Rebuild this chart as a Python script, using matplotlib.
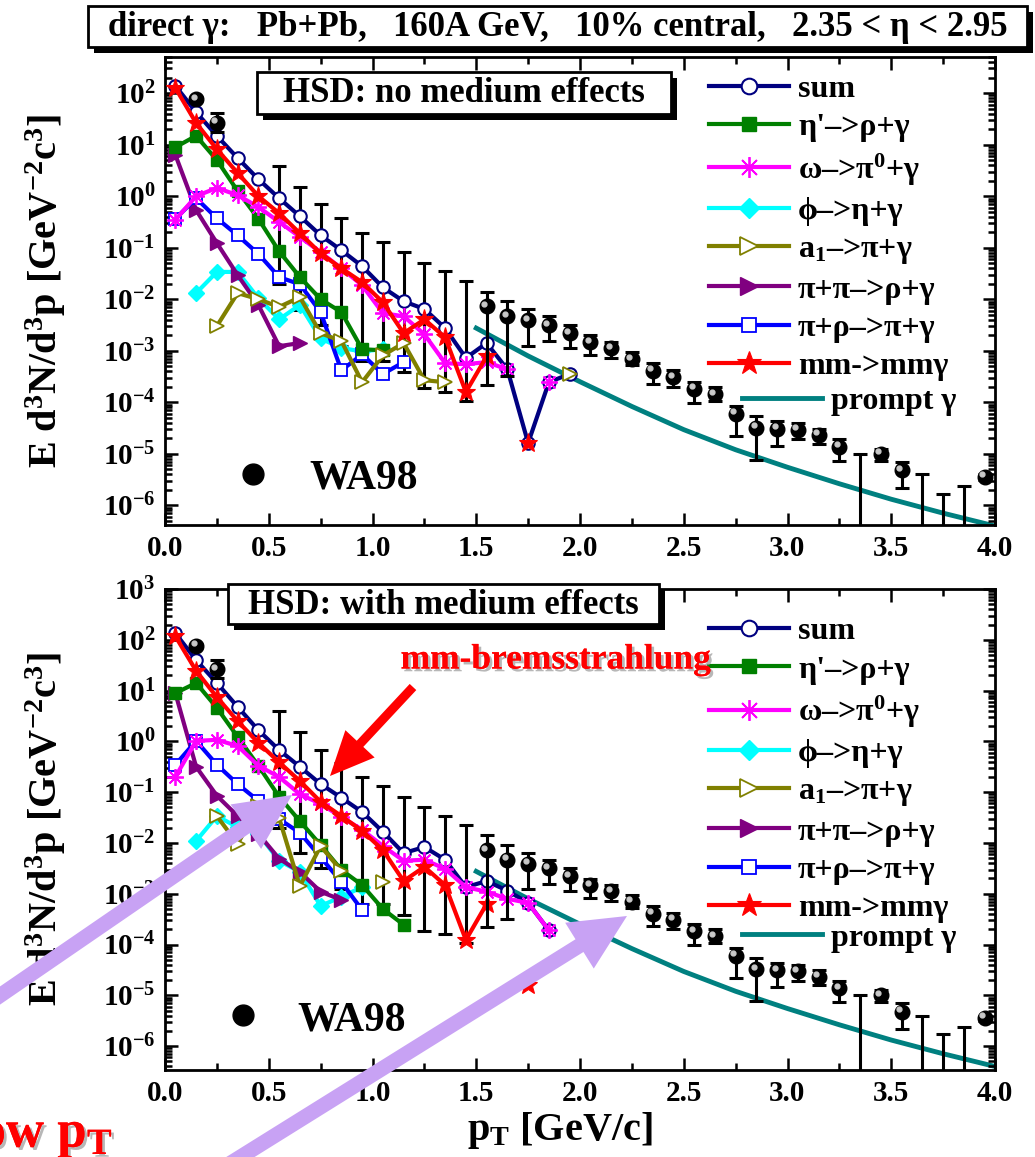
import numpy as np
import matplotlib
matplotlib.use('Agg')
import matplotlib.pyplot as plt
from matplotlib.lines import Line2D
from matplotlib.patches import Rectangle, FancyArrow
from matplotlib.transforms import offset_copy
from matplotlib.ticker import LogLocator, FuncFormatter, NullFormatter, MultipleLocator, FormatStrFormatter
import matplotlib.patheffects as pe

plt.rcParams['font.family'] = ['Liberation Serif', 'DejaVu Serif']
plt.rcParams['font.weight'] = 'bold'
plt.rcParams['axes.labelweight'] = 'bold'
plt.rcParams['mathtext.fontset'] = 'custom'
plt.rcParams['mathtext.rm'] = 'Liberation Serif:bold'
plt.rcParams['mathtext.bf'] = 'Liberation Serif:bold'
plt.rcParams['mathtext.it'] = 'Liberation Serif:bold:italic'
plt.rcParams['mathtext.default'] = 'rm'

nan = np.nan
# ---------------- data (log10 of E d3N/d3p) ----------------
pt = [0.05, 0.15, 0.25, 0.35, 0.45, 0.55, 0.65, 0.75, 0.85, 0.95,
      1.05, 1.15, 1.25, 1.35, 1.45, 1.55, 1.65, 1.75, 1.85, 1.95]

labels = ['sum', "η'–>ρ+γ", 'ω–>π$^{0}$+γ', 'ϕ–>η+γ', 'a$_{1}$–>π+γ',
          'π+π–>ρ+γ', 'π+ρ–>π+γ', 'mm->mmγ']

# HSD: no medium effects
sum_nm   = [2.14, 1.63, 1.17, 0.74, 0.33, -0.04, -0.39, -0.76, -1.05, -1.36,
            -1.77, -2.04, -2.19, -2.56, -3.14, -2.85, -3.36, -4.79, -3.61, -3.45]
eta_nm   = [0.95, 1.17, 0.70, 0.10, -0.44, -1.07, -1.57, -2.00, -2.25, -2.97,
            -2.99, nan, nan, nan, nan, nan, nan, nan, nan, nan]
omega_nm = [-0.46, 0.00, 0.16, 0.02, -0.21, -0.50, -0.79, -1.09, -1.40, -1.73,
            -2.27, -2.33, -2.68, -3.24, -3.26, -3.22, -3.36, nan, -3.61, nan]
phi_nm   = [nan, -1.88, -1.47, -1.47, -1.98, -2.39, -2.11, -2.76, -2.95, -3.01,
            -2.97, nan, nan, nan, nan, nan, nan, nan, nan, nan]
a1_nm    = [nan, nan, -2.52, -1.88, -2.00, -2.15, -1.96, -2.66, -2.81, -3.61,
            -3.09, -2.85, -3.57, -3.61, nan, nan, nan, nan, nan, -3.45]
pipi_nm  = [0.80, -0.27, -0.91, -1.53, -2.11, -2.91, -2.85, nan, nan, nan,
            nan, nan, nan, nan, nan, nan, nan, nan, nan, nan]
pirho_nm = [-0.44, -0.04, -0.43, -0.76, -1.12, -1.57, -1.71, -2.25, -3.38, -3.07,
            -3.45, -3.22, nan, nan, nan, nan, nan, nan, nan, nan]
mm_nm    = [2.10, 1.42, 0.91, 0.45, 0.00, -0.33, -0.72, -1.11, -1.40, -1.67,
            -2.06, -2.66, -2.39, -2.74, -3.80, -3.11, nan, -4.79, nan, nan]

# HSD: with medium effects
sum_wm   = [2.13, 1.60, 1.15, 0.68, 0.22, -0.17, -0.50, -0.84, -1.11, -1.39,
            -1.78, -2.20, -2.08, -2.33, -2.87, -2.75, -2.94, -3.18, -3.72, nan]
eta_wm   = [0.95, 1.15, 0.66, 0.09, -0.48, -1.09, -1.57, -2.04, -2.53, -2.83,
            -3.30, -3.61, nan, nan, nan, nan, nan, nan, nan, nan]
omega_wm = [-0.70, 0.01, 0.03, -0.09, -0.48, -0.70, -1.04, -1.23, -1.49, -1.74,
            -2.06, -2.35, -2.33, -2.51, -2.87, -2.96, -3.10, -3.18, -3.72, nan]
phi_wm   = [nan, -1.96, -1.47, -1.69, -1.82, -2.35, -2.57, -3.24, -3.06, -2.87,
            nan, nan, nan, nan, nan, nan, nan, nan, nan, nan]
a1_wm    = [nan, nan, -1.47, -2.02, -1.27, -1.51, -2.85, -2.06, -2.55, nan,
            -2.77, nan, nan, nan, nan, nan, nan, nan, nan, nan]
pipi_wm  = [0.95, -0.50, -1.07, -1.47, -1.82, -2.31, -2.57, -2.96, -3.12, nan,
            nan, nan, nan, nan, nan, nan, nan, nan, nan, nan]
pirho_wm = [-0.46, 0.01, -0.46, -0.84, -1.17, -1.53, -1.80, -2.28, -2.77, -3.32,
            nan, nan, nan, nan, nan, nan, nan, nan, nan, nan]
mm_wm    = [2.07, 1.39, 0.87, 0.40, -0.03, -0.41, -0.78, -1.19, -1.47, -1.76,
            -2.14, -2.75, -2.47, -2.83, -3.91, -3.20, nan, -4.79, nan, nan]

# prompt photons
prompt_pt  = [1.5, 1.75, 2.0, 2.25, 2.5, 2.75, 3.0, 3.25, 3.5, 3.75, 4.0]
prompt_log = [-2.56, -3.10, -3.60, -4.08, -4.53, -4.92, -5.26, -5.58, -5.88, -6.15, -6.40]

# WA98 data points
wa_pt  = [0.15, 0.25, 1.55, 1.65, 1.75, 1.85, 1.95, 2.05, 2.15, 2.25, 2.35, 2.45,
          2.55, 2.65, 2.75, 2.85, 2.95, 3.05, 3.15, 3.25, 3.45, 3.55, 3.95]
wa_c   = [1.88, 1.42, -2.14, -2.33, -2.41, -2.50, -2.66, -2.83, -2.95, -3.16, -3.39, -3.51,
          -3.74, -3.84, -4.22, -4.49, -4.51, -4.53, -4.63, -4.86, -5.00, -5.32, -5.44]
wa_hi  = [1.92, 1.61, -1.85, -2.04, -2.19, -2.33, -2.50, -2.70, -2.83, -3.02, -3.24, -3.37,
          -3.60, -3.70, -4.07, -4.26, -4.36, -4.40, -4.51, -4.72, -4.90, -5.15, -5.40]
wa_lo  = [1.84, 1.25, -3.66, -3.49, -2.91, -2.81, -2.95, -3.08, -3.14, -3.28, -3.64, -3.70,
          -4.01, -3.97, -4.65, -5.11, -4.84, -4.71, -4.80, -5.13, -5.13, -5.67, -5.50]
# WA98 upper limits (bars only)
ul_pt = [0.55, 0.65, 0.75, 0.85, 0.95, 1.05, 1.15, 1.25, 1.35, 1.45, 3.35, 3.65, 3.75, 3.85]
ul_hi = [0.59, 0.18, -0.16, -0.42, -0.71, -0.88, -1.09, -1.29, -1.46, -1.65, -5.00, -5.40, -5.77, -5.63]
ul_lo = [-1.71, -2.20, -2.50, -2.90, -3.20, -3.20, -3.41, -3.73, -3.80, -3.97, -9.0, -9.0, -9.0, -9.0]

# ---------------- styles ----------------
NAVY, GREEN, MAG, CYAN, OLIVE, PURP, BLUE, RED, TEAL = (
    '#000080', '#008000', '#ff00ff', '#00ffff', '#808000', '#800080', '#0000ff', '#ff0000', '#008080')
# (color, marker, facecolor, markersize, mew, zorder)
styles = [
    (NAVY, 'o', 'white', 9, 1.5, 8),
    (GREEN, 's', GREEN, 8, 1.0, 6),
    (MAG, (8, 2, 0), MAG, 12, 1.3, 9),
    (CYAN, 'D', CYAN, 8, 1.0, 3),
    (OLIVE, '>', 'white', 10, 1.3, 8.5),
    (PURP, '>', PURP, 10, 1.0, 4),
    (BLUE, 's', 'white', 8, 1.3, 5),
    (RED, '*', RED, 14, 0.8, 10),
]

W, H = 1035, 1157
fig = plt.figure(figsize=(W / 100, H / 100), dpi=100)


def frac(l, t, r, b):
    return [l / W, 1 - b / H, (r - l) / W, (b - t) / H]


def expfmt(v, _):
    e = int(round(np.log10(v)))
    return '10$^{%d}$' % e


def draw_panel(ax, series, ylim, leg_anchor, prompt_anchor, wa_anchor, wa_pad):
    ax.set_yscale('log')
    ax.set_xlim(0, 4.0)
    ax.set_ylim(*ylim)
    x = np.array(pt)
    handles = []
    for vals, lab, st in zip(series, labels, styles):
        c, m, fc, ms, mew, z = st
        h, = ax.plot(x, 10 ** np.array(vals), color=c, lw=3, marker=m, ms=ms,
                     mfc=fc, mec=c, mew=mew, zorder=z, label=lab)
        handles.append(h)
    ax.plot(prompt_pt, 10 ** np.array(prompt_log), color=TEAL, lw=3.5, zorder=1)
    # WA98 upper limits
    ax.vlines(ul_pt, 10 ** np.array(ul_lo), 10 ** np.array(ul_hi), color='k', lw=2.2, zorder=1.5)
    ax.plot(ul_pt, 10 ** np.array(ul_hi), ls='none', marker='_', ms=10, mew=2.2, color='k', zorder=1.5)
    ax.plot(ul_pt, 10 ** np.array(ul_lo), ls='none', marker='_', ms=10, mew=2.2, color='k', zorder=1.5)
    # WA98 points
    c = 10 ** np.array(wa_c)
    ax.errorbar(wa_pt, c, yerr=[c - 10 ** np.array(wa_lo), 10 ** np.array(wa_hi) - c],
                fmt='none', ecolor='k', elinewidth=2.2, capsize=5, capthick=2.2, zorder=11)
    ax.plot(wa_pt, c, ls='none', marker='o', ms=10.5, color='k', zorder=12)
    ax.plot(wa_pt, c, ls='none', marker='o', ms=3.5, color='#c8c8c8', zorder=13,
            transform=offset_copy(ax.transData, fig=fig, x=-2.5, y=2.5, units='dots'))

    # axes styling
    for s in ax.spines.values():
        s.set_linewidth(2.0)
    ax.yaxis.set_major_locator(LogLocator(base=10, numticks=30))
    ax.yaxis.set_major_formatter(FuncFormatter(expfmt))
    ax.yaxis.set_minor_locator(LogLocator(base=10, subs=np.arange(2, 10), numticks=100))
    ax.yaxis.set_minor_formatter(NullFormatter())
    ax.xaxis.set_major_locator(MultipleLocator(0.5))
    ax.xaxis.set_minor_locator(MultipleLocator(0.25))
    ax.xaxis.set_major_formatter(FormatStrFormatter('%.1f'))
    ax.tick_params(which='both', direction='in', top=True, right=True, width=1.8, labelsize=21)
    ax.tick_params(which='major', length=9, pad=7)
    ax.tick_params(which='minor', length=5)
    ax.set_ylabel('E d$^{3}$N/d$^{3}$p [GeV$^{-2}$c$^{3}$]', fontsize=29)
    ax.yaxis.set_label_coords(-0.117, 0.5)

    leg = ax.legend(handles, labels, loc='upper left', bbox_to_anchor=leg_anchor,
                    frameon=False, fontsize=23, handlelength=2.5, handletextpad=0.3,
                    labelspacing=0.28, borderpad=0, borderaxespad=0, markerscale=1.25)
    ax.add_artist(leg)
    leg2 = ax.legend([Line2D([], [], color=TEAL, lw=3.5)], ['prompt γ'], loc='upper left',
                     bbox_to_anchor=prompt_anchor, frameon=False, fontsize=23,
                     handlelength=2.5, handletextpad=0.3, borderpad=0, borderaxespad=0)
    ax.add_artist(leg2)
    ax.legend([Line2D([], [], ls='none', marker='o', color='k', ms=15)], ['WA98'],
              loc='center left', bbox_to_anchor=wa_anchor, frameon=False, fontsize=30,
              handlelength=1.0, handletextpad=wa_pad, borderpad=0, borderaxespad=0)


ax1 = fig.add_axes(frac(165, 57, 995, 525))
ax2 = fig.add_axes(frac(165, 589, 995, 1070))

draw_panel(ax1, [sum_nm, eta_nm, omega_nm, phi_nm, a1_nm, pipi_nm, pirho_nm, mm_nm],
           (10 ** -6.38, 10 ** 2.70), (0.655, 0.962), (0.695, 0.295), (0.081, 0.100), 0.85)
draw_panel(ax2, [sum_wm, eta_wm, omega_wm, phi_wm, a1_wm, pipi_wm, pirho_wm, mm_wm],
           (10 ** -6.47, 10 ** 3.0), (0.655, 0.942), (0.695, 0.305), (0.069, 0.104), 0.80)
ax2.set_xlabel('p$_{T}$ [GeV/c]', fontsize=29)
ax2.xaxis.set_label_coords(0.476, -0.083)

# ---------------- overlay annotations (pixel space) ----------------
ov = fig.add_axes([0, 0, 1, 1])
ov.set_xlim(0, W)
ov.set_ylim(H, 0)
ov.axis('off')
ov.set_zorder(20)
ov.patch.set_alpha(0)


def shadow_box(x, y, w, h, text, fs):
    ov.add_patch(Rectangle((x + 6, y + 6), w, h, fc='k', ec='k', lw=0))
    ov.add_patch(Rectangle((x, y), w, h, fc='white', ec='k', lw=2))
    ov.text(x + w / 2, y + h / 2 + 1, text, ha='center', va='center', fontsize=fs)


shadow_box(88, 6, 939, 41,
           'direct γ:   Pb+Pb,   160A GeV,   10% central,   2.35 < η < 2.95', 25)
shadow_box(257, 72, 414, 42, 'HSD: no medium effects', 25)
shadow_box(228, 584, 431, 40, 'HSD: with medium effects', 25)

shadow = [pe.withSimplePatchShadow(offset=(2, -2), shadow_rgbFace='#999999', alpha=0.7), pe.Normal()]
ov.text(556, 660, 'mm-bremsstrahlung', color='red', fontsize=25.5, ha='center', va='center',
        path_effects=shadow)
ov.text(113, 1134, 'low p$_{T}$', color='red', fontsize=38, ha='right', va='center',
        path_effects=shadow)

ov.add_patch(FancyArrow(413, 687, -83, 89, width=9, head_width=40, head_length=44,
                        length_includes_head=True, color='red', lw=0))
PURPLE = '#c8a2f4'
ov.add_patch(FancyArrow(-40, 1023, 332, -228, width=15, head_width=54, head_length=56,
                        length_includes_head=True, color=PURPLE, lw=0))
ov.add_patch(FancyArrow(226, 1166, 401, -250, width=15, head_width=54, head_length=56,
                        length_includes_head=True, color=PURPLE, lw=0))

fig.savefig('out.png', dpi=100)
